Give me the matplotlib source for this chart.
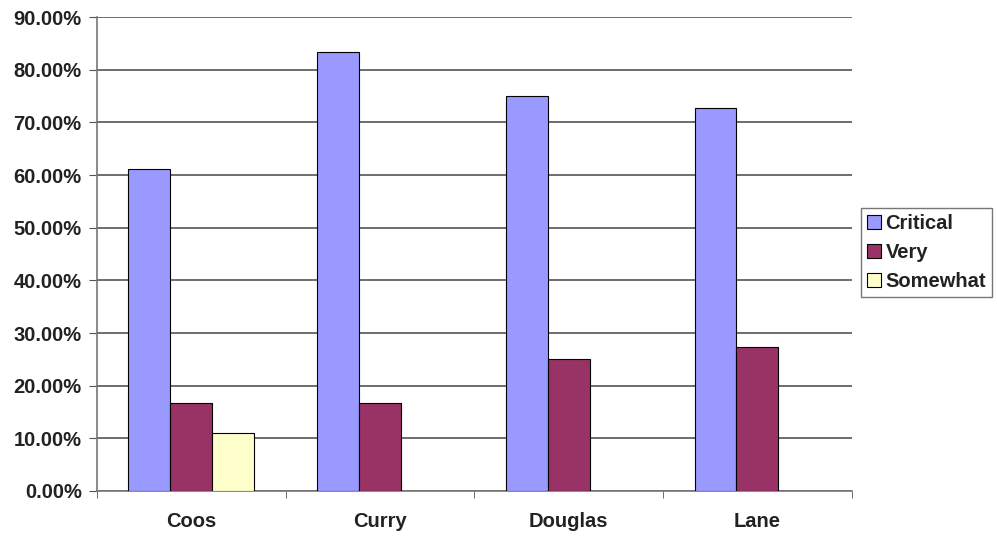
import matplotlib.pyplot as plt
import numpy as np
from matplotlib.ticker import FuncFormatter, FixedLocator

plt.rcParams['font.family'] = ['Liberation Sans', 'DejaVu Sans']
plt.rcParams['font.weight'] = 'bold'

counties = ['Coos', 'Curry', 'Douglas', 'Lane']
critical = [61.1, 83.3, 75.0, 72.7]
very = [16.7, 16.7, 25.0, 27.3]
somewhat = [11.1, 0.0, 0.0, 0.0]

series = [('Critical', critical, '#9999FF'),
          ('Very', very, '#993366'),
          ('Somewhat', somewhat, '#FFFFCC')]

fig = plt.figure(figsize=(9.97, 5.36), dpi=100)
ax = fig.add_axes([0.0973, 0.084, 0.757, 0.884])

x = np.arange(len(counties))
w = 1 / 4.5
for i, (name, vals, col) in enumerate(series):
    vals = np.array(vals)
    keep = vals > 0
    ax.bar(x[keep] + (i - 1) * w, vals[keep], width=w, color=col,
           edgecolor='black', linewidth=0.8, label=name, zorder=3)

ax.set_xlim(-0.5, len(counties) - 0.5)
ax.set_ylim(0, 90)
ax.set_yticks(np.arange(0, 91, 10))
ax.yaxis.set_major_formatter(FuncFormatter(lambda v, p: '%.2f%%' % v))
ax.set_xticks(x)
ax.set_xticklabels(counties)
ax.xaxis.set_minor_locator(FixedLocator(np.arange(-0.5, len(counties), 1)))
ax.tick_params(axis='x', which='major', length=0, pad=15, labelsize=14.5,
               labelcolor='#222222')
ax.tick_params(axis='x', which='minor', length=5, color='#555555')
ax.tick_params(axis='y', length=6, color='#555555', labelsize=14.5, pad=5,
               labelcolor='#222222')
ax.grid(axis='y', color='#555555', linewidth=1.2, zorder=0)
for s in ['top', 'right']:
    ax.spines[s].set_visible(False)
for s in ['left', 'bottom']:
    ax.spines[s].set_color('#777777')
    ax.spines[s].set_linewidth(1.2)

leg = fig.legend(loc='upper left', bbox_to_anchor=(0.864, 0.612),
                 fancybox=False, edgecolor='#555555', fontsize=14.5,
                 handlelength=0.65, handleheight=0.65, handletextpad=0.25,
                 borderpad=0.3, labelspacing=0.5, borderaxespad=0)
for t in leg.get_texts():
    t.set_color('#222222')
for h in leg.legend_handles:
    h.set_linewidth(0.8)

plt.savefig('out.png')
